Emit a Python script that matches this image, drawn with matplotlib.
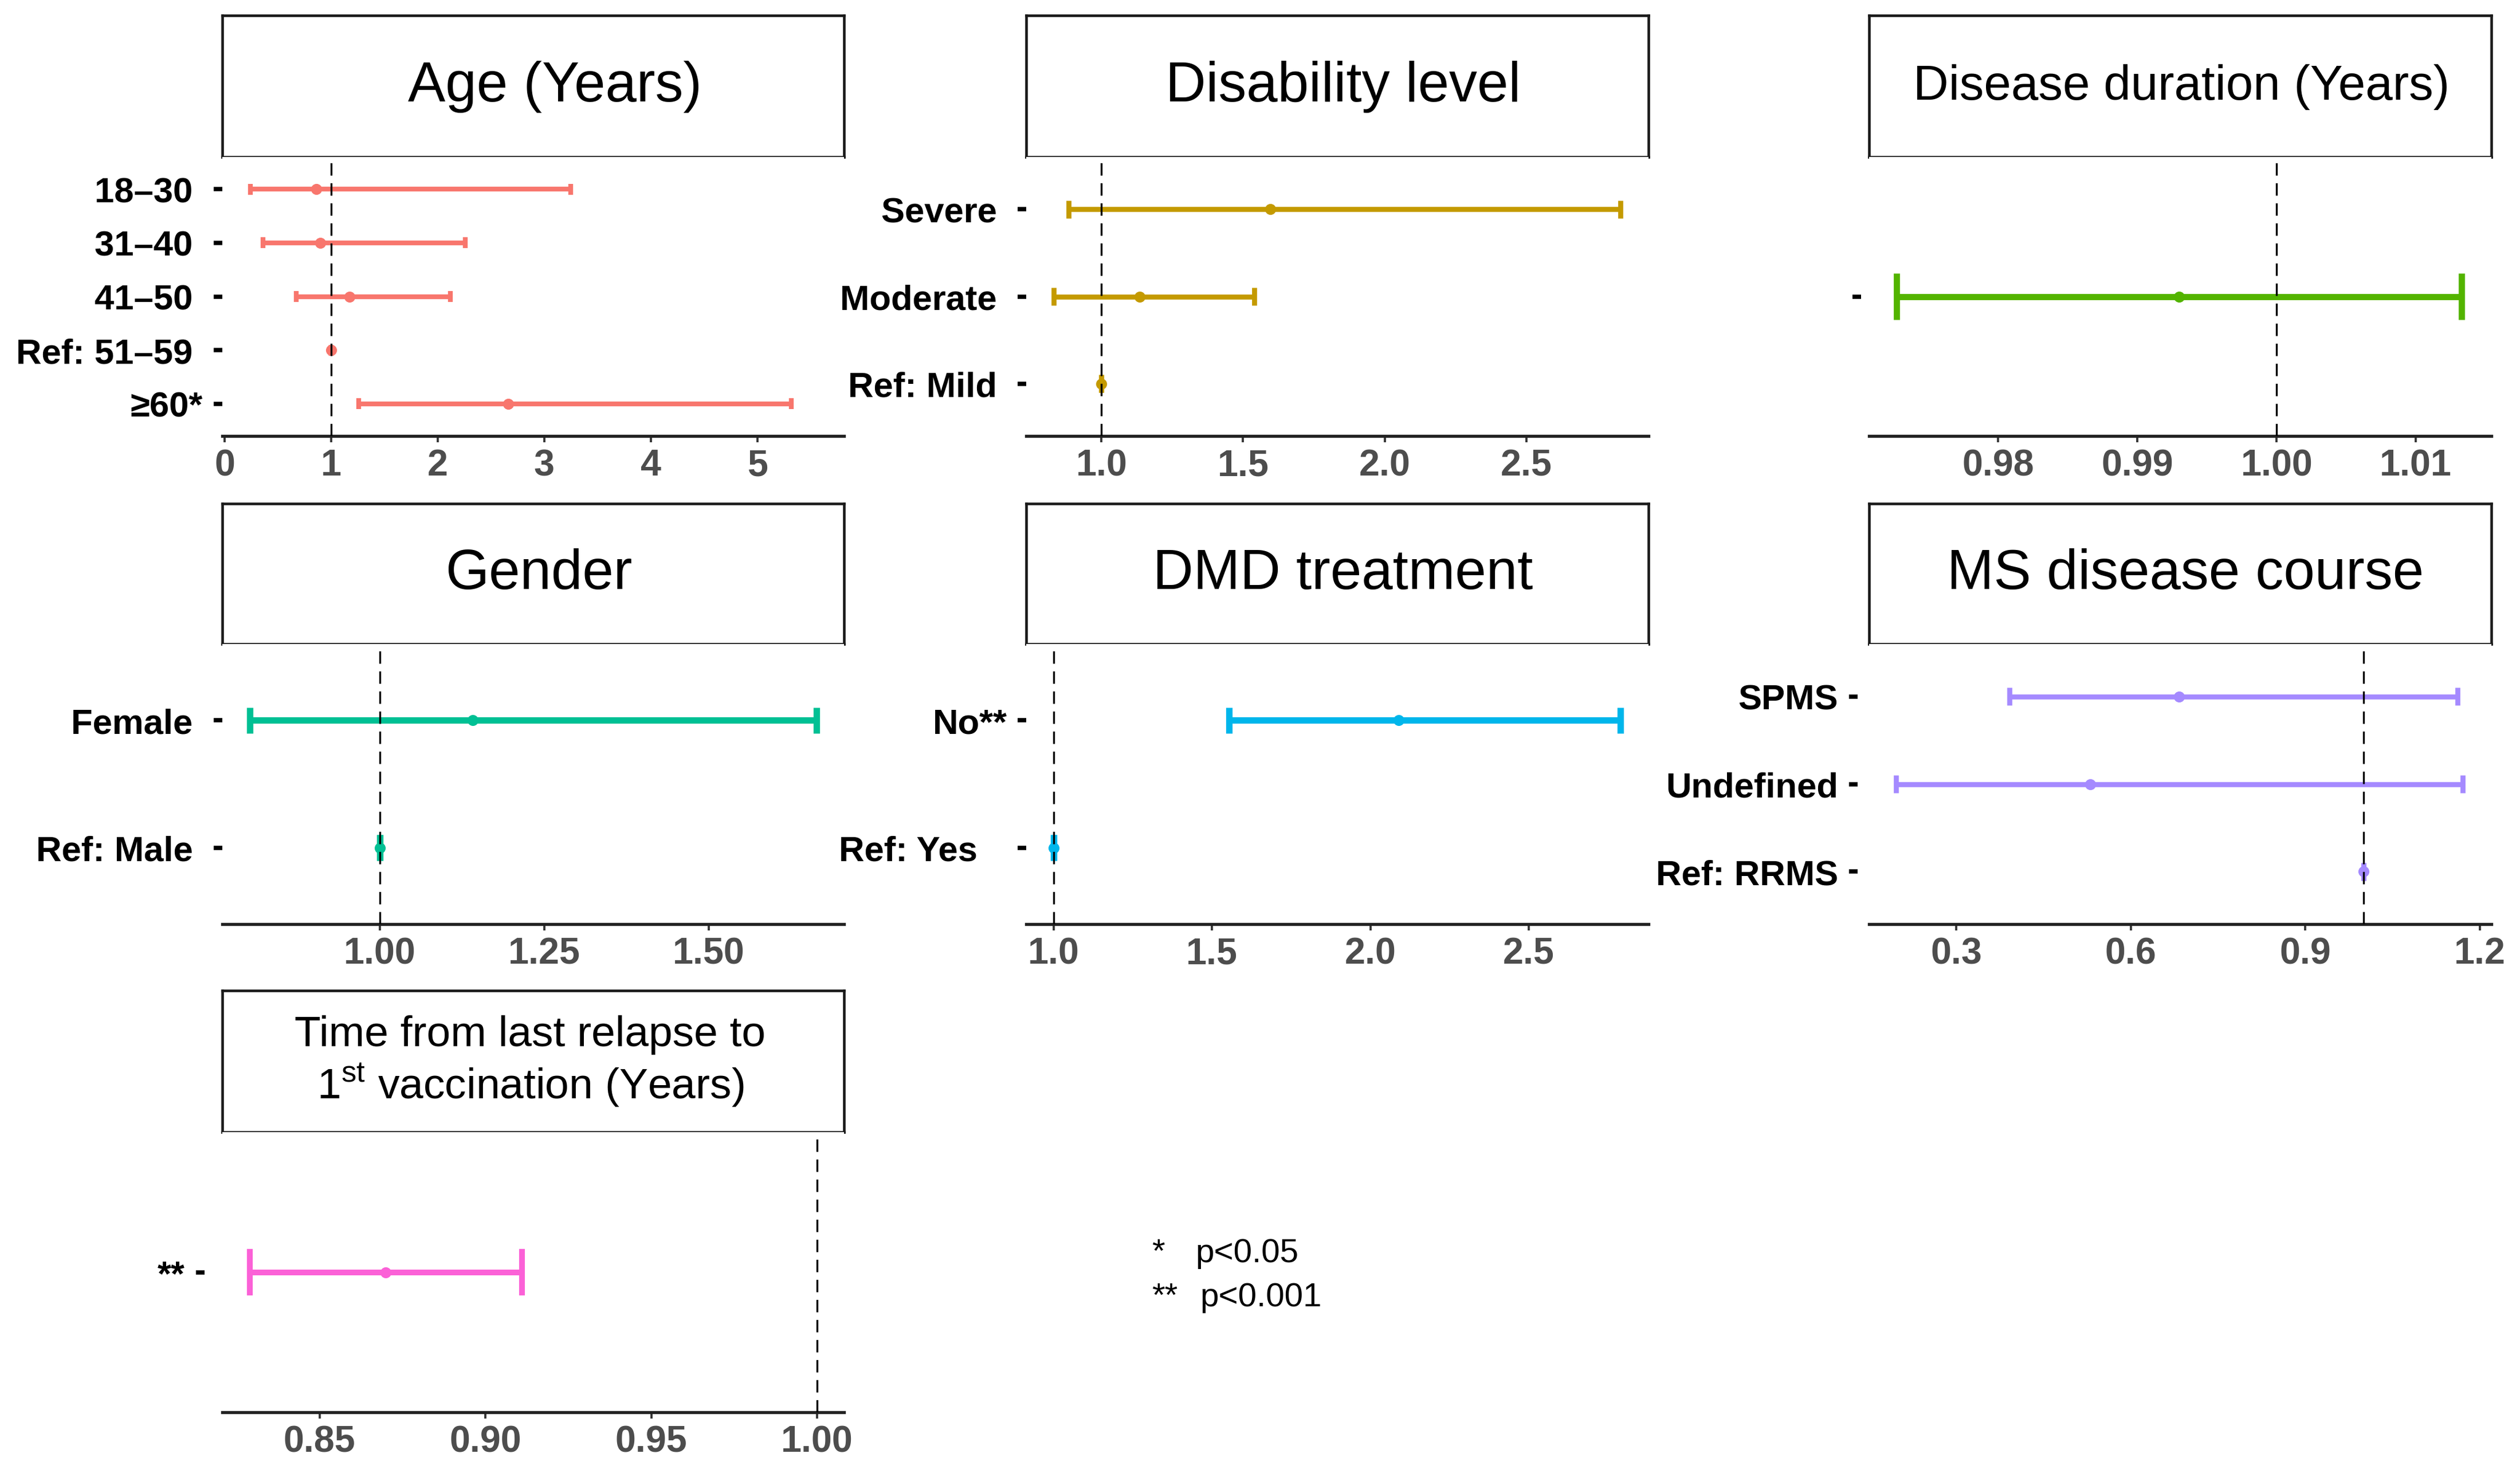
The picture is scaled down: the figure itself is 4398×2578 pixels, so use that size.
import numpy as np
import matplotlib.pyplot as plt

plt.rcParams['font.family'] = ['Liberation Sans', 'DejaVu Sans']
plt.rcParams['mathtext.fontset'] = 'custom'
plt.rcParams['mathtext.rm'] = 'Liberation Sans'

# ---- data (odds ratios with 95% CI) ----
age_labels = ['18–30 ', '31–40 ', '41–50 ', 'Ref: 51–59 ', '≥60*']
age_est = [0.86, 0.90, 1.17, 1.0, 2.66]
age_lo = [0.24, 0.36, 0.67, 1.0, 1.26]
age_hi = [3.25, 2.26, 2.12, 1.0, 5.32]

dis_labels = ['Severe ', 'Moderate ', 'Ref: Mild ']
dis_est = [1.596, 1.134, 1.0]
dis_lo = [0.883, 0.831, 1.0]
dis_hi = [2.832, 1.539, 1.0]

dur_labels = ['']
dur_est = [0.9930]
dur_lo = [0.9727]
dur_hi = [1.0133]

gen_labels = ['Female ', 'Ref: Male ']
gen_est = [1.141, 1.0]
gen_lo = [0.802, 1.0]
gen_hi = [1.664, 1.0]

dmd_labels = ['No**', 'Ref: Yes   ']
dmd_est = [2.089, 1.0]
dmd_lo = [1.555, 1.0]
dmd_hi = [2.790, 1.0]

ms_labels = ['SPMS', 'Undefined', 'Ref: RRMS']
ms_est = [0.683, 0.530, 1.0]
ms_lo = [0.391, 0.196, 1.0]
ms_hi = [1.162, 1.171, 1.0]

rel_labels = ['**']
rel_est = [0.870]
rel_lo = [0.829]
rel_hi = [0.911]

W, H, DPI = 4398, 2579, 300
fig = plt.figure(figsize=(W / DPI, H / DPI), dpi=DPI)

cols = [(387.5, 1473), (1791, 2876.5), (3261.5, 4347.5)]
rows = [(28, 275, 762), (880, 1125, 1614), (1730, 1977, 2466)]


def rect(x0, y0, x1, y1):
    return [x0 / W, 1 - y1 / H, (x1 - x0) / W, (y1 - y0) / H]


def panel(col, row, title, tsize, labels, est, lo, hi, color, lw,
          xlim, xticks, fmt, gap=0, tdx=10):
    x0, x1 = cols[col]
    st, pt, ab = rows[row]

    # strip with title
    sax = fig.add_axes(rect(x0, st, x1, pt))
    sax.set_xticks([])
    sax.set_yticks([])
    for s in sax.spines.values():
        s.set_linewidth(1.1)
        s.set_color('#1a1a1a')
    sax.text(0.5 + tdx / (x1 - x0), 0.5, title, ha='center', va='center',
             fontsize=tsize, transform=sax.transAxes, linespacing=1.2)

    ax = fig.add_axes(rect(x0, pt, x1, ab))
    n = len(labels)
    pos = np.arange(n, 0, -1)
    ax.hlines(pos, lo, hi, color=color, lw=lw, zorder=2)
    ax.vlines(lo, pos - 0.1, pos + 0.1, color=color, lw=lw, zorder=2)
    ax.vlines(hi, pos - 0.1, pos + 0.1, color=color, lw=lw, zorder=2)
    ax.plot(est, pos, 'o', color=color, ms=3.6, zorder=3)
    ax.axvline(1, color='black', lw=0.8, ls=(0, (6.5, 4)), zorder=4)

    ax.set_xlim(*xlim)
    ax.set_ylim(0.4, n + 0.6)
    ax.set_xticks(xticks)
    ax.set_xticklabels([fmt.format(v) for v in xticks])
    ax.set_yticks(pos)
    ax.set_yticklabels(labels)

    for s in ['top', 'right']:
        ax.spines[s].set_visible(False)
    ax.spines['left'].set_visible(False)
    ax.spines['left'].set_position(('outward', gap * 72 / DPI))
    ax.spines['bottom'].set_linewidth(1.3)
    ax.spines['bottom'].set_color('#222222')

    ax.tick_params(axis='x', length=2.6, width=0.9, color='#333333',
                   labelsize=15.5, labelcolor='#4D4D4D', pad=2.5)
    ax.tick_params(axis='y', length=3.6, width=1.8, color='black',
                   labelsize=14.8, labelcolor='black', pad=4.5)
    for t in ax.get_xticklabels() + ax.get_yticklabels():
        t.set_fontweight('bold')
    return ax


panel(0, 0, 'Age (Years)', 23.5, age_labels, age_est, age_lo, age_hi,
      '#F8766D', 2.0, (-0.025, 5.815), [0, 1, 2, 3, 4, 5], '{:.0f}', tdx=38)
panel(1, 0, 'Disability level', 23.5, dis_labels, dis_est, dis_lo, dis_hi,
      '#C49A00', 2.1, (0.734, 2.931), [1.0, 1.5, 2.0, 2.5], '{:.1f}')
panel(2, 0, 'Disease duration (Years)', 20.5, dur_labels, dur_est, dur_lo,
      dur_hi, '#53B400', 2.6, (0.9707, 1.0154),
      [0.98, 0.99, 1.00, 1.01], '{:.2f}', gap=14, tdx=3)
panel(0, 1, 'Gender', 23.5, gen_labels, gen_est, gen_lo, gen_hi,
      '#00C094', 2.7, (0.76, 1.706), [1.00, 1.25, 1.50], '{:.2f}')
panel(1, 1, 'DMD treatment', 23.5, dmd_labels, dmd_est, dmd_lo, dmd_hi,
      '#00B6EB', 2.7, (0.914, 2.877), [1.0, 1.5, 2.0, 2.5], '{:.1f}')
panel(2, 1, 'MS disease course', 23.5, ms_labels, ms_est, ms_lo, ms_hi,
      '#A58AFF', 2.1, (0.1494, 1.2196), [0.3, 0.6, 0.9, 1.2], '{:.1f}',
      gap=20)
panel(0, 2, 'Time from last relapse to\n1$^{\\rm st}$ vaccination (Years)',
      18, rel_labels, rel_est, rel_lo, rel_hi, '#FB61D7', 2.4,
      (0.8206, 1.0081), [0.85, 0.90, 0.95, 1.00], '{:.2f}', gap=31, tdx=-5)

# significance note
fig.text(2010 / W, 1 - 2188 / H, '*', fontsize=14, va='center')
fig.text(2086 / W, 1 - 2188 / H, 'p<0.05', fontsize=14, va='center')
fig.text(2010 / W, 1 - 2265 / H, '**', fontsize=14, va='center')
fig.text(2094 / W, 1 - 2265 / H, 'p<0.001', fontsize=14, va='center')

fig.savefig('out.png', dpi=DPI, facecolor='white')
